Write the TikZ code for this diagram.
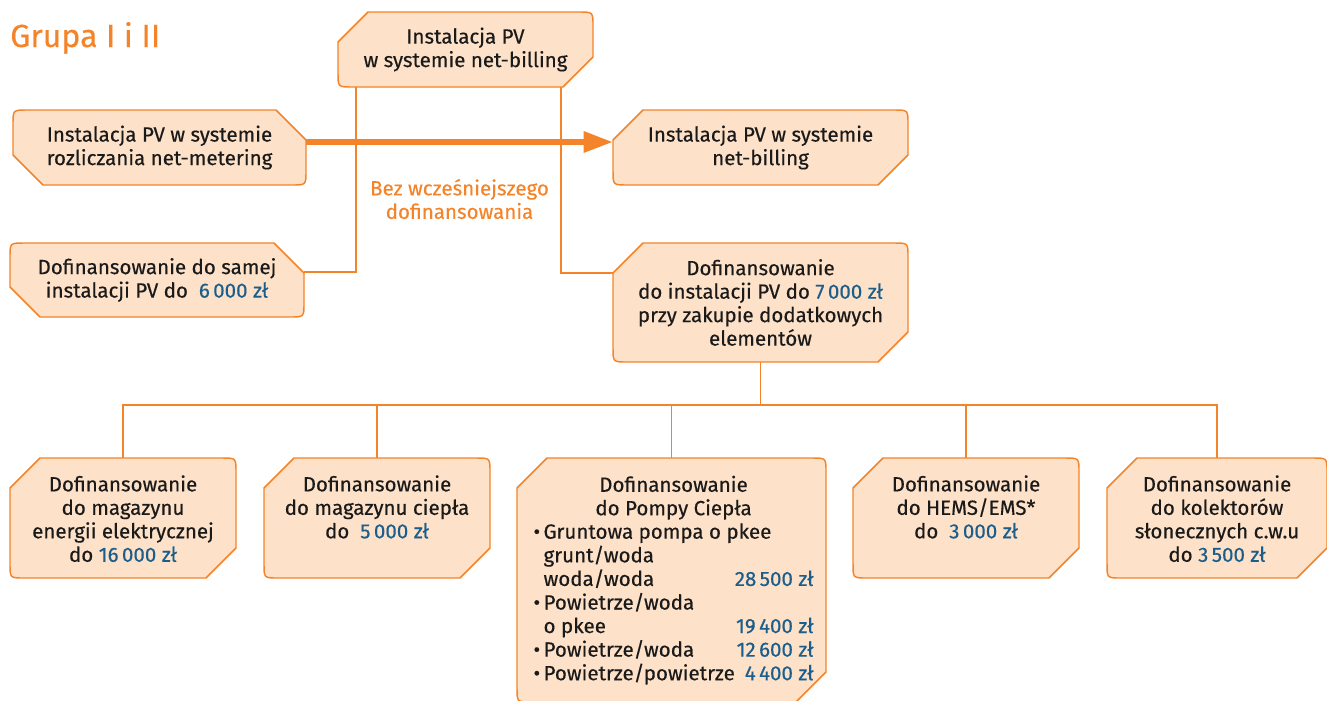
\documentclass[tikz,border=0pt]{standalone}
\usepackage{fontspec}
\setmainfont{Fira Sans}[FakeBold=0.35]
\usetikzlibrary{calc,arrows.meta,backgrounds}
\definecolor{pvorange}{HTML}{F4842A}
\definecolor{pvfill}{HTML}{FDE1C8}
\definecolor{pvblue}{HTML}{1B5E8C}
\definecolor{pvtext}{HTML}{1A1A1A}
\newcommand{\px}{0.75pt}
\newcommand{\kwota}[1]{\textcolor{pvblue}{#1 zł}}
% outline: chamfered top left / bottom right
\newcommand{\chamferR}[2]{%
  \coordinate (nw) at (#1.north west);
  \coordinate (ne) at (#1.north east);
  \coordinate (sw) at ($(nw)+(0,#2)$);
  \coordinate (se) at ($(ne)+(0,#2)$);
  \draw[boxline] ($(nw)+(0,30)$) -- ($(nw)+(30,0)$) -- ($(ne)+(-14,0)$)
    .. controls (ne) .. ($(ne)+(0,14)$) -- ($(se)+(0,-30)$) -- ($(se)+(-30,0)$)
    -- ($(sw)+(14,0)$) .. controls (sw) .. ($(sw)+(0,-14)$) -- cycle;}
% outline: chamfered top right / bottom left
\newcommand{\chamferL}[2]{%
  \coordinate (nw) at (#1.north west);
  \coordinate (ne) at (#1.north east);
  \coordinate (sw) at ($(nw)+(0,#2)$);
  \coordinate (se) at ($(ne)+(0,#2)$);
  \draw[boxline] ($(nw)+(0,14)$) .. controls (nw) .. ($(nw)+(14,0)$)
    -- ($(ne)+(-30,0)$) -- ($(ne)+(0,30)$) -- ($(se)+(0,-14)$)
    .. controls (se) .. ($(se)+(-14,0)$) -- ($(sw)+(30,0)$) -- ($(sw)+(0,-30)$) -- cycle;}
\begin{document}
\begin{tikzpicture}[x=0.75pt,y=-0.75pt,
    boxline/.style={draw=pvorange,fill=pvfill,line width=1.1pt},
    boxtext/.style={align=center,text=pvtext,inner xsep=0pt,outer sep=0pt,
      font=\fontsize{15.4}{17.6}\selectfont},
    lowtext/.style={anchor=north,inner ysep=13pt},
    link/.style={draw=pvorange,line width=1.1pt},
    bigarrow/.style={draw=pvorange,line width=4.5pt,-{Triangle[length=22pt,width=15pt]}}]
  \useasboundingbox (0,0) rectangle (1327,700);

  \node[anchor=base west,text=pvorange,inner sep=0pt,font=\fontsize{24}{30}\selectfont]
    (title) at (10,47) {Grupa I i II};

  \node[boxtext,minimum width=255*\px,minimum height=75*\px] (top) at (465.5,49.5)
    {Instalacja PV\\w systemie net-billing};
  \node[boxtext,minimum width=293*\px,minimum height=75*\px] (meter) at (159.5,147.5)
    {Instalacja PV w systemie\\rozliczania net-metering};
  \node[boxtext,minimum width=295*\px,minimum height=75*\px] (billing) at (760.5,147.5)
    {Instalacja PV w systemie\\net-billing};
  \node[boxtext,minimum width=294*\px,minimum height=74*\px] (samej) at (157,280)
    {Dofinansowanie do samej\\instalacji PV do \ \kwota{6\,000}};
  \node[boxtext,minimum width=295*\px,minimum height=119*\px] (pv7) at (760.5,302.5)
    {Dofinansowanie\\do instalacji PV do \kwota{7\,000}\\przy zakupie dodatkowych\\elementów};
  \node[text=pvorange,align=center,font=\fontsize{15.4}{17.6}\selectfont] (bez) at (459.5,199)
    {Bez wcześniejszego\\dofinansowania};

  \node[boxtext,lowtext,minimum width=226*\px] (mag) at (123,458)
    {Dofinansowanie\\do magazynu\\energii elektrycznej\\do \kwota{16\,000}};
  \node[boxtext,lowtext,minimum width=226*\px] (cieplo) at (377,458)
    {Dofinansowanie\\do magazynu ciepła\\do \ \kwota{5\,000}};
  \node[boxtext,lowtext,minimum width=309*\px] (pompa) at (671.5,458)
    {\begin{tabular*}{207pt}{@{}l@{\extracolsep{\fill}}r@{}}
      \multicolumn{2}{@{}c@{}}{Dofinansowanie}\\
      \multicolumn{2}{@{}c@{}}{do Pompy Ciepła}\\
      \multicolumn{2}{@{}l@{}}{•\,Gruntowa pompa o pkee}\\
      \multicolumn{2}{@{}l@{}}{\hphantom{•\,}grunt/woda}\\
      \hphantom{•\,}woda/woda & \kwota{28\,500}\\
      \multicolumn{2}{@{}l@{}}{•\,Powietrze/woda}\\
      \hphantom{•\,}o pkee & \kwota{19\,400}\\
      •\,Powietrze/woda & \kwota{12\,600}\\
      •\,Powietrze/powietrze & \kwota{4\,400}
    \end{tabular*}};
  \node[boxtext,lowtext,minimum width=226*\px] (hems) at (966,458)
    {Dofinansowanie\\do HEMS/EMS*\\do \ \kwota{3\,000}};
  \node[boxtext,lowtext,minimum width=220*\px] (kol) at (1217,458)
    {Dofinansowanie\\do kolektorów\\słonecznych c.w.u\\do \kwota{3\,500}};

  \begin{scope}[on background layer]
    \chamferR{top}{75}
    \chamferL{meter}{75}
    \chamferR{billing}{75}
    \chamferL{samej}{74}
    \chamferR{pv7}{119}
    \chamferR{mag}{120}
    \chamferR{cieplo}{120}
    \chamferR{pompa}{244}
    \chamferR{hems}{120}
    \chamferR{kol}{120}
  \end{scope}

  \draw[link] ($(top.south west)+(18,0)$) |- ($(samej.north east)+(0,29)$);
  \draw[link] ($(top.south east)+(-32,0)$) |- ($(pv7.north west)+(0,30)$);
  \draw[bigarrow] ($(meter.north east)+(0,32)$) -- ($(billing.north west)+(0,32)$);
  \coordinate (bus) at ($(pv7.south)+(0,43)$);
  \draw[link] (pv7.south) -- (bus);
  \draw[link] (mag.north) |- (bus) -| (kol.north);
  \foreach \n in {cieplo,pompa,hems}
    \draw[link] (\n.north) -- (\n.north |- bus);
\end{tikzpicture}
\end{document}
